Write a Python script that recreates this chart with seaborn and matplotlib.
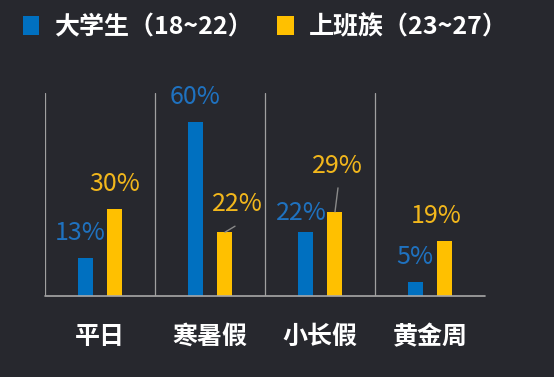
import pandas as pd
import matplotlib.pyplot as plt
import seaborn as sns

# data
categories = ["平日", "寒暑假", "小长假", "黄金周"]
groups = ["大学生（18~22）", "上班族（23~27）"]
students = [13, 60, 22, 5]
workers = [30, 22, 29, 19]

df = pd.DataFrame({
    "category": categories * 2,
    "group": [groups[0]] * 4 + [groups[1]] * 4,
    "value": students + workers,
})

BG = "#27282e"
BLUE = "#0070c0"
YELLOW = "#ffc000"
TEXT_BLUE = "#1f72c0"
TEXT_YELLOW = "#f2b71c"

sns.set_theme(style="white")
plt.rcParams["font.family"] = ["Noto Sans CJK SC", "DejaVu Sans"]

fig = plt.figure(figsize=(5.54, 3.77), dpi=100, facecolor=BG)
ax = fig.add_axes([45 / 554, 1 - 296 / 377, 440 / 554, 203 / 377])
ax.set_facecolor(BG)

sns.barplot(data=df, x="category", y="value", hue="group",
            palette=[BLUE, YELLOW], width=0.545, gap=0.5,
            saturation=1, linewidth=0, ax=ax)

ax.set_xlim(-0.5, 3.5)
ax.set_ylim(0, 70)
ax.set_xlabel("")
ax.set_ylabel("")
ax.set_yticks([])
for s in ax.spines.values():
    s.set_visible(False)
ax.axhline(0, color="#a8a8a8", lw=1.2, clip_on=False)
for x in [-0.5, 0.5, 1.5, 2.5]:
    ax.axvline(x, color="#a0a0a0", lw=0.9)

ax.tick_params(axis="x", length=0, pad=21, colors="white")
for t in ax.get_xticklabels():
    t.set_fontsize(18)
    t.set_fontweight("bold")
    t.set_color("white")

# value labels (offsets in pixels relative to bar top)
offsets = [[(-5, 25), (0, 25), (-4, 19), (0, 25)],
           [(0, 25), (12, 28), (2, 46), (-9, 25)]]
leaders = {(1, 1): (10, 6), (1, 2): (3, 24)}
text_colors = [TEXT_BLUE, TEXT_YELLOW]

for gi, cont in enumerate(ax.containers):
    for ci, bar in enumerate(cont):
        bx = bar.get_x() + bar.get_width() / 2
        by = bar.get_height()
        dx, dy = offsets[gi][ci]
        ax.annotate(f"{by:.0f}%", xy=(bx, by), xytext=(dx, dy),
                    textcoords="offset pixels", ha="center", va="center",
                    color=text_colors[gi], fontsize=18, fontweight="light")
        if (gi, ci) in leaders:
            ax.annotate("", xy=(bx, by), xytext=leaders[(gi, ci)],
                        textcoords="offset pixels",
                        arrowprops=dict(arrowstyle="-", color="#8a8a8a",
                                        lw=1, shrinkA=0, shrinkB=0))

handles, labels = ax.get_legend_handles_labels()
ax.legend_.remove()
leg = fig.legend(handles, labels, loc="upper left",
                 bbox_to_anchor=(0.0, 1.02), ncol=2, frameon=False,
                 handlelength=0.65, handleheight=0.8, handletextpad=0.6,
                 columnspacing=1.0, prop={"size": 18, "weight": "bold"})
for t in leg.get_texts():
    t.set_color("white")

fig.savefig("out.png", dpi=100, facecolor=BG)
